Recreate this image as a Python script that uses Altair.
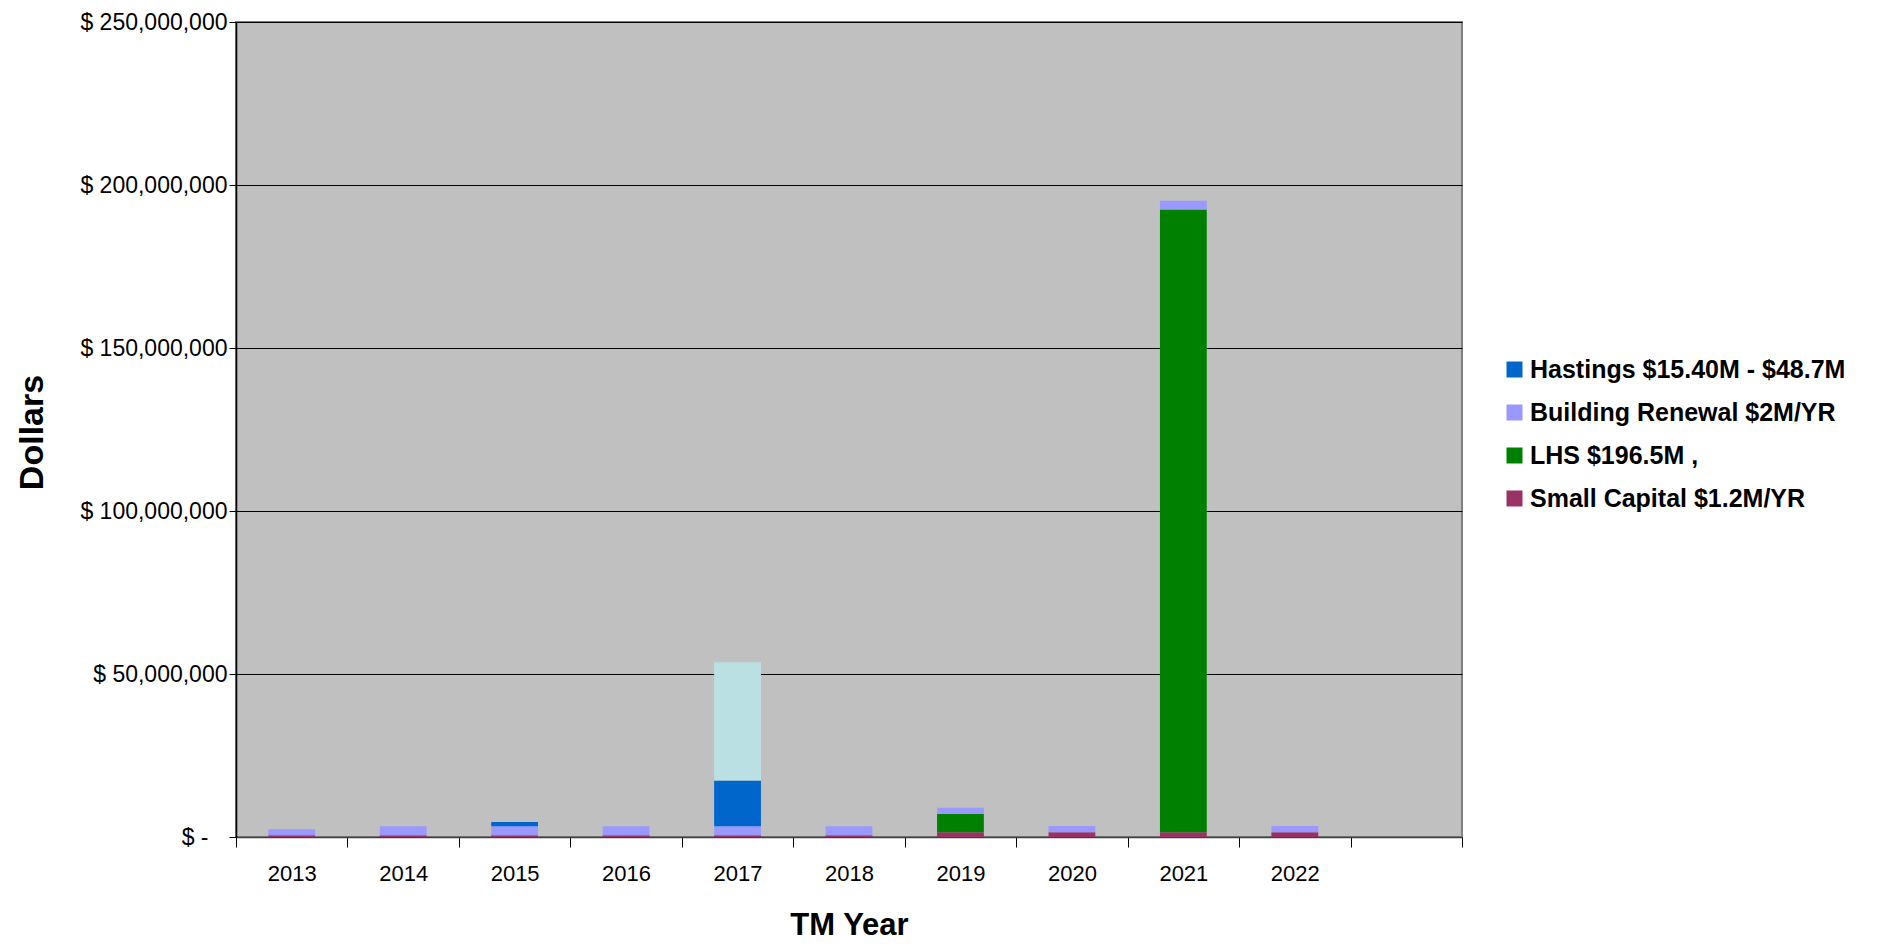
import altair as alt
import pandas as pd

# ---- data (US dollars) ----
years = ["2013", "2014", "2015", "2016", "2017", "2018", "2019", "2020", "2021", "2022"]
year_domain = years + ["2023"]  # empty trailing category slot

small_capital = [0.5e6, 0.5e6, 0.5e6, 0.5e6, 0.5e6, 0.5e6, 1.45e6, 1.45e6, 1.45e6, 1.45e6]
building_renewal = [1.9e6, 2.8e6, 2.8e6, 2.8e6, 2.8e6, 2.8e6, 1.9e6, 1.9e6, 2.7e6, 1.9e6]
lhs = [0, 0, 0, 0, 0, 0, 5.6e6, 0, 191.0e6, 0]
hastings = [0, 0, 1.3e6, 0, 14.0e6, 0, 0, 0, 0, 0]
hastings_extra = [0, 0, 0, 0, 36.3e6, 0, 0, 0, 0, 0]

series_names = [
    "Hastings $15.40M - $48.7M",
    "Building Renewal $2M/YR",
    "LHS $196.5M ,",
    "Small Capital $1.2M/YR",
    "Hastings additional",
]
series_colors = ["#0066CC", "#9999FF", "#008000", "#993366", "#BAE0E3"]
legend_names = series_names[:4]
y_ticks = [0, 50e6, 100e6, 150e6, 200e6, 250e6]

# stacking order bottom -> top
stack_series = [
    (series_names[3], small_capital, 1),
    (series_names[2], lhs, 2),
    (series_names[1], building_renewal, 3),
    (series_names[0], hastings, 4),
    (series_names[4], hastings_extra, 5),
]

rows = []
for name, vals, order in stack_series:
    for yr, v in zip(years, vals):
        rows.append({"year": yr, "series": name, "value": v, "stack_order": order})
df = pd.DataFrame(rows)

FONT = "Liberation Sans"

chart = (
    alt.Chart(df)
    .mark_bar(width=alt.RelativeBandSize(0.42))
    .encode(
        x=alt.X(
            "year:N",
            scale=alt.Scale(domain=year_domain, paddingInner=0, paddingOuter=0),
            axis=alt.Axis(
                title="TM Year",
                labelExpr="datum.value == '2023' ? '' : datum.label",
                labelAngle=0,
                tickBand="extent",
                ticks=True,
                tickSize=10,
                tickColor="#000000",
                domainColor="#404040",
                domainWidth=1.5,
                labelFont=FONT,
                labelFontSize=22,
                labelColor="#000000",
                labelBaseline="middle",
                labelPadding=26,
                titleFont=FONT,
                titleFontSize=31,
                titleFontWeight="bold",
                titleColor="#000000",
                titleBaseline="middle",
                titleY=88,
                grid=False,
            ),
        ),
        y=alt.Y(
            "value:Q",
            stack="zero",
            scale=alt.Scale(domain=[0, 250e6], nice=False),
            axis=alt.Axis(
                title="Dollars",
                values=y_ticks,
                labelExpr="datum.value == 0 ? '$ -' : '$ ' + format(datum.value, ',')",
                grid=True,
                gridColor="#000000",
                gridWidth=1,
                tickSize=7,
                tickColor="#000000",
                domainColor="#000000",
                domainWidth=1.5,
                labelFont=FONT,
                labelFontSize=23,
                labelColor="#000000",
                labelPadding={"condition": {"test": "datum.value == 0", "value": 21}, "value": 2},
                titleFont=FONT,
                titleFontSize=34,
                titleFontWeight="bold",
                titleColor="#000000",
                titleAngle=270,
                titleAlign="center",
                titleBaseline="middle",
                titleX=-204,
                titleY=410,
            ),
        ),
        color=alt.Color(
            "series:N",
            scale=alt.Scale(domain=series_names, range=series_colors),
            legend=alt.Legend(
                values=legend_names,
                title=None,
                orient="none",
                legendX=1266,
                legendY=335,
                symbolType="square",
                symbolSize=256,
                symbolStrokeWidth=0,
                symbolOpacity=1,
                labelFont=FONT,
                labelFontSize=25,
                labelFontWeight="bold",
                labelColor="#000000",
                labelOffset=3,
                rowPadding=17,
                padding=0,
                labelLimit=500,
            ),
        ),
        order=alt.Order("stack_order:Q", sort="ascending"),
    )
    .properties(
        width=1226,
        height=815,
        autosize=alt.AutoSizeParams(type="none"),
        padding={"left": 228, "top": 14, "right": 390, "bottom": 107},
        background="#FFFFFF",
    )
    .configure_view(fill="#C0C0C0", stroke="#808080", strokeWidth=2)
)

chart.save("out.html", embed_options={"renderer": "svg", "actions": False})
